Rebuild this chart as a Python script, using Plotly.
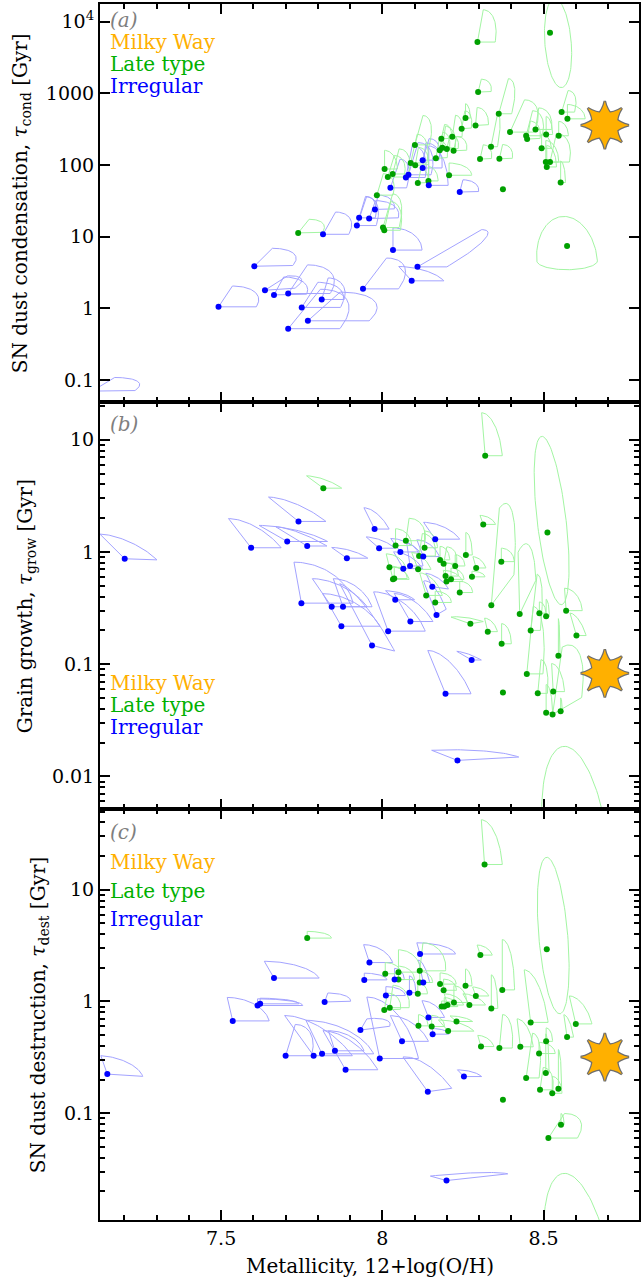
import numpy as np
import plotly.graph_objects as go

# ---------------- data ----------------
# Panel (a): SN dust condensation timescale [Gyr]
cond_irr_z = [7.10, 7.492, 7.603, 7.636, 7.664, 7.708, 7.708, 7.750, 7.769, 7.812, 7.816, 7.921, 7.928,
              7.940, 7.959, 7.977, 8.025, 8.033, 8.073, 8.081, 8.091, 8.109, 8.125, 8.125, 8.144, 8.240]
cond_irr_tau = [0.07, 1.05, 3.87, 1.79, 1.54, 1.61, 0.52, 1.03, 0.67, 1.33, 10.8, 14.3, 18.3,
                1.87, 17.9, 24, 48, 6.5, 67, 73, 2.42, 3.79, 117, 91, 52, 42]
# confidence contour: (right dZ, right dlog, top dZ, top dlog)
cond_irr_cont = [(0.13, 0, 0.07, 0.19), (0.117, 0, 0.043, 0.29), (0.117, 0, 0.056, 0.25), (0.09, 0.02, 0.07, 0.2),
                 (0.10, 0, 0.03, 0.25), (0.13, 0, 0.06, 0.40), (0.16, 0, 0.10, 0.55), (0.12, 0, 0.05, 0.35),
                 (0.19, 0, 0.10, 0.40), (0.07, 0, 0.02, 0.30), (0.08, 0, 0.039, 0.31), (0.06, 0, 0.03, 0.40),
                 (0.05, 0, 0.02, 0.30), (0.11, 0, 0.073, 0.43), (0.09, 0, 0.02, 0.25), (0.06, 0, 0.01, 0.20),
                 (0.05, 0, 0.03, 0.40), (0.09, 0, 0.0, 0.31), (0.06, 0, 0.02, 0.45), (0.07, 0, 0.03, 0.45),
                 (0.10, 0, -0.04, 0.20), (0.091, 0, 0.199, 0.52), (0.05, 0, 0.02, 0.30), (0.06, 0, 0.01, 0.35),
                 (0.06, 0, 0.0, 0.55), (0.058, 0, 0.01, 0.17)]
cond_late_z = [7.739, 7.983, 8.002, 8.006, 8.007, 8.017, 8.032, 8.088, 8.101, 8.102, 8.110, 8.143, 8.166,
               8.178, 8.183, 8.186, 8.200, 8.207, 8.217, 8.221, 8.246, 8.258, 8.289, 8.295, 8.297, 8.303,
               8.337, 8.361, 8.363, 8.374, 8.396, 8.446, 8.449, 8.475, 8.494, 8.507, 8.508, 8.510, 8.520,
               8.520, 8.547, 8.553, 8.556, 8.573, 8.574]
cond_late_tau = [11.3, 38, 13.4, 12.3, 88, 68, 75, 107, 191, 99, 56, 60, 124, 161, 232, 174, 167, 72, 248,
                 158, 321, 452, 357, 5200, 1043, 121, 180, 519, 122, 46, 288, 256, 230, 314, 171, 110, 267,
                 94, 110, 7000, 256, 57, 548, 7.4, 441]
cond_late_cont = [(0.074, 0, 0.034, 0.19), (0.05, 0, 0.02, 0.30), (0.05, 0, 0.03, 0.47), (0.05, 0, 0.02, 0.40),
                  (0.04, 0, 0.0, 0.26), (0.05, 0, 0.02, 0.30), (0.05, 0, 0.02, 0.35), (0.05, 0, 0.02, 0.40),
                  (0.045, 0, 0.025, 0.41), (0.04, 0, 0.01, 0.25), (0.03, 0, 0.01, 0.20), (0.03, 0, 0.0, 0.20),
                  (0.035, 0, 0.01, 0.25), (0.03, 0, 0.01, 0.25), (0.03, 0, 0.01, 0.20), (0.04, 0, 0.01, 0.30),
                  (0.035, 0, 0.01, 0.20), (0.07, 0, 0.0, 0.17), (0.03, 0, 0.01, 0.30), (0.04, 0, 0.01, 0.20),
                  (0.03, 0, 0.01, 0.25), (0.015, 0, 0.0, 0.20), (0.04, 0, 0.005, 0.25), (0.055, 0, 0.018, 0.45),
                  (0.04, 0, 0.01, 0.18), (0.035, 0, 0.01, 0.20), (0.02, 0, 0.02, 0.45), (0.04, 0, 0.03, 0.49),
                  (0.04, 0, 0.01, 0.20), (0, 0, 0, 0), (0.075, 0, 0.045, 0.45), (0.05, 0, 0.02, 0.35),
                  (0.04, 0, 0.01, 0.25), (0.05, 0, 0.01, 0.30), (0.03, 0, 0.0, 0.20), (0.04, 0, 0.0, 0.30),
                  (0.02, 0, 0.0, 0.25), (0.03, 0, 0.0, 0.30), (0.06, 0, 0.02, 0.40), (0, 0, 0, 0),
                  (0.03, 0, 0.0, 0.20), (0.015, 0, 0.0, 0.30), (0.04, 0, 0.02, 0.30), (0, 0, 0, 0),
                  (0.055, 0, 0.0, 0.20)]
# closed contours: (centre Z, centre tau, half-width dZ, top dZ, top dlog)
cond_late_ell = [(8.545, 5012, 0.041, -0.01, 0.62)]
# dome-shaped contours: (centre Z, base tau, half-width dZ, top dZ, top dlog)
cond_late_dome = [(8.573, 4.6, 0.094, -0.01, 0.62)]
cond_mw = 360

# Panel (b): grain growth timescale [Gyr]
grow_irr_z = [7.201, 7.593, 7.705, 7.740, 7.749, 7.767, 7.843, 7.873, 7.878, 7.890, 7.968, 7.976, 7.990,
              8.018, 8.040, 8.056, 8.065, 8.086, 8.087, 8.127, 8.155, 8.164, 8.168, 8.196, 8.233, 8.277]
grow_irr_tau = [0.87, 1.09, 1.24, 1.87, 0.35, 1.13, 0.325, 0.218, 0.325, 0.88, 0.147, 1.60, 1.08,
                0.197, 0.375, 1.0, 0.71, 0.75, 0.24, 0.91, 0.49, 1.30, 0.275, 0.0545, 0.0139, 0.109]
grow_irr_cont = [(0.10, -0.01, -0.077, 0.22), (0.093, 0, -0.07, 0.26), (0.125, 0, -0.087, 0.143),
                 (0.085, 0, -0.093, 0.217), (0.16, 0, -0.023, 0.365), (0.061, 0, -0.097, 0.17),
                 (0.11, 0, -0.06, 0.25), (0.12, 0, -0.058, 0.29), (0.09, 0, -0.03, 0.25),
                 (0.065, 0, -0.047, 0.095), (0.07, -0.05, -0.10, 0.55), (0.045, 0, -0.033, 0.19),
                 (0.05, 0, -0.04, 0.10), (0.115, 0, -0.045, 0.35), (0.06, 0, -0.03, 0.08),
                 (0.06, 0, -0.03, 0.12), (0.06, 0, -0.03, 0.15), (0.04, 0, -0.01, 0.20),
                 (0.07, 0, -0.05, 0.25), (0.05, 0, -0.02, 0.15), (0.05, -0.02, -0.02, 0.12),
                 (0.076, 0, -0.036, 0.15), (0.03, 0.05, -0.04, 0.30), (0.079, 0, -0.055, 0.386),
                 (0.19, 0.03, -0.08, 0.09), (0.03, 0, -0.046, 0.077)]
grow_late_z = [7.817, 8.022, 8.033, 8.037, 8.041, 8.073, 8.111, 8.114, 8.131, 8.136, 8.164, 8.179, 8.190,
               8.196, 8.199, 8.213, 8.226, 8.240, 8.259, 8.273, 8.278, 8.291, 8.313, 8.319, 8.327, 8.338,
               8.369, 8.370, 8.374, 8.426, 8.448, 8.460, 8.482, 8.487, 8.508, 8.508, 8.512, 8.528, 8.530,
               8.546, 8.553, 8.570, 8.602]
grow_late_tau = [3.7, 0.73, 0.57, 0.58, 1.14, 1.26, 0.70, 0.92, 1.09, 0.41, 0.355, 0.85, 0.785,
                 0.61, 0.545, 0.57, 0.75, 0.435, 0.94, 0.229, 0.60, 0.72, 1.76, 7.2, 0.195, 0.336,
                 0.82, 0.152, 0.056, 0.28, 0.082, 0.20, 0.055, 0.285, 0.268, 0.037, 1.49, 0.0357, 0.057,
                 0.119, 0.038, 0.30, 0.18]
grow_late_cont = [(0.057, 0, -0.052, 0.11), (0.05, 0, -0.01, 0.12), (0.05, 0, -0.01, 0.12), (0.04, 0, 0.0, 0.10),
                  (0.05, 0, 0.0, 0.15), (0.06, 0, 0.01, 0.20), (0.04, 0, -0.02, 0.15), (0.05, 0, 0.01, 0.20),
                  (0.04, 0, 0.0, 0.15), (0.05, 0, -0.02, 0.20), (0.05, 0, 0.0, 0.10), (0.03, 0, 0.0, 0.12),
                  (0.04, 0, 0.01, 0.15), (0.04, 0, 0.0, 0.12), (0.05, 0, -0.01, 0.10), (0.04, 0, 0.0, 0.10),
                  (0.03, 0, 0.0, 0.10), (0.04, 0, 0.0, 0.10), (0.02, 0, 0.0, 0.20), (0.04, 0.02, -0.06, 0.06),
                  (0.04, 0, 0.0, 0.05), (0.03, 0, -0.01, 0.10), (0.038, 0, -0.01, 0.08), (0.053, 0, -0.011, 0.383),
                  (0.03, 0, -0.01, 0.12), (0.07, 0.27, 0.025, 0.865), (0.04, 0, 0.0, 0.12), (0.03, 0, 0.0, 0.18),
                  (0, 0, 0, 0), (0.05, 0.3, -0.005, 0.55), (0.05, 0, 0.02, 0.60), (0.03, 0, 0.02, 0.50),
                  (0.03, 0, 0.01, 0.30), (0.02, 0, 0.0, 0.10), (0.01, 0, 0.0, 0.15), (0.02, 0, 0.0, 0.25),
                  (0, 0, 0, 0), (0.09, 0.15, 0.03, 0.60), (0.035, 0, -0.005, 0.25), (0.005, 0, 0.0, 0.33),
                  (0.005, 0, 0.0, 0.12), (0.05, 0, -0.005, 0.20), (0.03, 0, -0.02, 0.20)]
grow_late_ell = [(8.525, 1.905, 0.045, -0.03, 0.75), (8.60, 0.0025, 0.10, -0.035, 0.87)]
grow_late_dome = []
grow_mw = 0.083

# Panel (c): SN dust destruction timescale [Gyr]
dest_irr_z = [7.147, 7.536, 7.613, 7.621, 7.664, 7.700, 7.787, 7.813, 7.821, 7.853, 7.886, 7.932, 7.944,
              7.960, 7.992, 8.011, 8.038, 8.061, 8.084, 8.117, 8.127, 8.141, 8.143, 8.156, 8.199, 8.253]
dest_irr_tau = [0.224, 0.67, 0.92, 0.953, 1.62, 0.327, 0.327, 0.34, 0.99, 0.362, 0.245, 0.555, 1.56,
                2.23, 0.309, 1.13, 1.57, 0.44, 1.20, 2.66, 1.48, 0.156, 0.72, 0.51, 0.025, 0.213]
dest_irr_cont = [(0.11, -0.02, -0.02, 0.165), (0.113, 0, -0.017, 0.21), (0.14, 0, 0.0, 0.06), (0.12, 0, 0.0, 0.05),
                 (0.14, 0, -0.03, 0.15), (0.08, 0, 0.03, 0.28), (0.12, 0, -0.09, 0.36), (0.16, 0, -0.05, 0.30),
                 (0.08, 0, 0.01, 0.08), (0.09, 0, -0.02, 0.18), (0.10, 0, -0.07, 0.35), (0.09, 0.03, 0.02, 0.10),
                 (0.07, 0, 0.0, 0.06), (0.072, 0, -0.018, 0.16), (0.12, 0, -0.04, 0.55), (0.06, 0, 0.0, 0.08),
                 (0.03, 0, 0.0, 0.10), (0.082, 0, -0.036, 0.23), (0.02, 0, 0.0, 0.15), (0.11, 0, -0.01, 0.10),
                 (0.02, 0, -0.015, 0.20), (0.074, 0.03, -0.077, 0.31), (0.05, 0, -0.02, 0.15),
                 (0.05, 0, 0.0, 0.05), (0.19, 0.06, -0.05, 0.04), (0.055, 0, -0.02, 0.06)]
dest_late_z = [7.767, 8.006, 8.009, 8.023, 8.050, 8.050, 8.110, 8.112, 8.116, 8.116, 8.153, 8.179, 8.184,
               8.190, 8.192, 8.202, 8.204, 8.222, 8.230, 8.258, 8.270, 8.290, 8.304, 8.306, 8.317, 8.338,
               8.363, 8.372, 8.374, 8.428, 8.446, 8.460, 8.486, 8.489, 8.507, 8.508, 8.510, 8.515, 8.527,
               8.546, 8.554, 8.573, 8.600]
dest_late_tau = [3.69, 0.84, 1.77, 0.88, 1.83, 1.57, 1.17, 0.605, 1.88, 1.48, 0.597, 1.43, 0.90,
                 1.26, 0.90, 0.93, 0.543, 0.98, 0.662, 1.38, 0.93, 1.12, 2.6, 0.395, 16.8, 0.867,
                 0.383, 1.27, 0.132, 0.393, 0.207, 0.65, 0.342, 0.162, 0.229, 0.44, 2.94, 0.060, 0.151,
                 0.166, 0.079, 0.48, 0.63]
dest_late_cont = [(0.075, 0, 0.0, 0.06), (0.05, 0, 0.01, 0.15), (0.05, 0, 0.0, 0.10), (0.06, 0, 0.01, 0.20),
                  (0.07, 0, 0.0, 0.20), (0.05, 0, 0.0, 0.12), (0.03, 0, 0.0, 0.10), (0.03, 0, 0.0, 0.10),
                  (0.08, 0, 0.01, 0.25), (0.04, 0, 0.0, 0.10), (0.04, 0, 0.0, 0.10), (0.05, 0, 0.0, 0.10),
                  (0.05, 0, 0.0, 0.05), (0.04, 0, 0.0, 0.10), (0.04, 0, 0.0, 0.08), (0.05, 0, -0.01, 0.10),
                  (0.08, 0, -0.03, 0.10), (0.04, 0, 0.0, 0.15), (0.05, 0, -0.02, 0.05), (0.02, 0, 0.0, 0.15),
                  (0.05, 0, -0.02, 0.10), (0.04, 0, -0.01, 0.08), (0.037, 0, -0.01, 0.09), (0.04, 0, -0.01, 0.10),
                  (0.055, 0, -0.01, 0.40), (0.02, 0, 0.0, 0.30), (0.04, 0, 0.01, 0.30), (0.038, 0, 0.0, 0.45),
                  (0, 0, 0, 0), (0.04, 0, -0.01, 0.25), (0.04, 0, 0.02, 0.40), (0.054, 0, -0.02, 0.47),
                  (0.05, 0, 0.0, 0.10), (0.04, 0, 0.01, 0.20), (0.01, 0, 0.0, 0.35), (0.02, 0, 0.0, 0.12),
                  (0, 0, 0, 0), (0.09, 0, 0.05, 0.22), (0.03, 0, 0.0, 0.15), (0.01, 0, 0.0, 0.35),
                  (0.01, 0, 0.0, 0.10), (0.02, 0, -0.01, 0.20), (0.05, 0, -0.02, 0.25)]
dest_late_ell = [(8.53, 3.89, 0.045, -0.02, 0.70), (8.61, 0.004, 0.10, -0.045, 0.86)]
dest_late_dome = []
dest_mw = 0.318

mw_z = 8.69

x_range = [7.1244, 8.796]
y_ranges = {"a": [-1.307, 4.247], "b": [-2.29, 1.336], "c": [-1.955, 1.722]}
cond_ticks = [0.1, 1, 10, 100, 1000, 10000]
cond_ticktext = ["0.1", "1", "10", "100", "1000", "10<sup>4</sup>"]
legend_labels = ["Milky Way", "Late type", "Irregular"]

# ---------------- styles ----------------
BLUE = "#0000ff"
GREEN = "#00a000"
BLUE_C = "#a3a3ff"
GREEN_C = "#a3f5a3"
ORANGE = "#ffb000"
FONT = "DejaVu Serif"
legend_colors = [ORANGE, "#00b000", BLUE]

W, H = 642, 1282
ML, MR, MT, MB = 100, 1, 4, 62
PW, PH = W - ML - MR, H - MT - MB
bottom_px = H - MB


def py2paper(py):
    return (bottom_px - py) / PH


def px2paper(px):
    return (px - ML) / PW


def quarter_paths(zs, taus, conts):
    X, Y = [], []
    t = np.linspace(0, np.pi / 2, 40)
    for z, tau, (rx, ry, tx, ty) in zip(zs, taus, conts):
        if rx == 0 and ty == 0:
            continue
        ly = np.log10(tau)
        xs = [z, z + rx] + list(z + rx * np.cos(t) + tx * np.sin(t)) + [z]
        ys = [ly, ly + ry] + list(ly + ry * np.cos(t) + ty * np.sin(t)) + [ly]
        X += xs + [None]
        Y += [10 ** v for v in ys] + [None]
    return X, Y


def ellipse_paths(ells):
    X, Y = [], []
    t = np.linspace(0, 2 * np.pi, 120)
    for cz, ctau, ax, bx, by in ells:
        cl = np.log10(ctau)
        X += list(cz + ax * np.cos(t) + bx * np.sin(t)) + [None]
        Y += list(10 ** (cl + by * np.sin(t))) + [None]
    return X, Y


def dome_paths(domes):
    # upper half-ellipse closed by a shallow lower arc
    X, Y = [], []
    t1 = np.linspace(0, np.pi, 80)
    t2 = np.linspace(np.pi, 2 * np.pi, 60)
    for cz, ctau, ax, bx, by in domes:
        cl = np.log10(ctau)
        xs = list(cz + ax * np.cos(t1) + bx * np.sin(t1)) + list(cz + ax * np.cos(t2))
        ys = list(cl + by * np.sin(t1)) + list(cl + 0.2 * by * np.sin(t2))
        X += xs + [None]
        Y += [10 ** v for v in ys] + [None]
    return X, Y


fig = go.Figure()

panels = [
    ("x", "y", cond_irr_z, cond_irr_tau, cond_irr_cont, cond_late_z, cond_late_tau, cond_late_cont,
     cond_late_ell, cond_late_dome, cond_mw),
    ("x2", "y2", grow_irr_z, grow_irr_tau, grow_irr_cont, grow_late_z, grow_late_tau, grow_late_cont,
     grow_late_ell, grow_late_dome, grow_mw),
    ("x3", "y3", dest_irr_z, dest_irr_tau, dest_irr_cont, dest_late_z, dest_late_tau, dest_late_cont,
     dest_late_ell, dest_late_dome, dest_mw),
]

for xa, ya, iz, it, ic, lz, lt, lc, le, ld, mw in panels:
    X, Y = quarter_paths(iz, it, ic)
    fig.add_trace(go.Scatter(x=X, y=Y, mode="lines", line=dict(color=BLUE_C, width=1),
                             xaxis=xa, yaxis=ya, hoverinfo="skip"))
    X, Y = quarter_paths(lz, lt, lc)
    X2, Y2 = ellipse_paths(le)
    X3, Y3 = dome_paths(ld)
    fig.add_trace(go.Scatter(x=X + X2 + X3, y=Y + Y2 + Y3, mode="lines", line=dict(color=GREEN_C, width=1),
                             xaxis=xa, yaxis=ya, hoverinfo="skip"))
    fig.add_trace(go.Scatter(x=lz, y=lt, mode="markers", marker=dict(color=GREEN, size=6),
                             xaxis=xa, yaxis=ya, name="Late type"))
    fig.add_trace(go.Scatter(x=iz, y=it, mode="markers", marker=dict(color=BLUE, size=6),
                             xaxis=xa, yaxis=ya, name="Irregular"))
    # Milky Way star (two rotated 4-point stars)
    for lw in (2.5, 0):
        fig.add_trace(go.Scatter(x=[mw_z, mw_z], y=[mw, mw], mode="markers",
                                 marker=dict(symbol="star-square", size=31, angle=[0, 45], color=ORANGE,
                                             line=dict(color="#6e6e6e", width=lw)),
                                 xaxis=xa, yaxis=ya, name="Milky Way"))

dom = {"a": [py2paper(402), 1.0], "b": [py2paper(809), py2paper(402)], "c": [0.0, py2paper(809)]}

xcommon = dict(range=x_range, tick0=7.5, dtick=0.5, ticks="inside", ticklen=10, tickwidth=1.5,
               tickcolor="black", showline=True, linewidth=2, linecolor="black", mirror="allticks",
               showgrid=False, zeroline=False,
               minor=dict(dtick=0.1, ticks="inside", ticklen=5, tickwidth=1.5, tickcolor="black", showgrid=False),
               tickfont=dict(family=FONT, size=19, color="black"))
ycommon = dict(type="log", ticks="inside", ticklen=10, tickwidth=1.5, tickcolor="black",
               showline=True, linewidth=2, linecolor="black", mirror="allticks",
               showgrid=False, zeroline=False, tickfont=dict(family=FONT, size=19, color="black"))

layout = dict(width=W, height=H, margin=dict(l=ML, r=MR, t=MT, b=MB), showlegend=False,
              plot_bgcolor="white", paper_bgcolor="white")
layout["xaxis"] = dict(xcommon, anchor="y", domain=[0, 1], showticklabels=False)
layout["xaxis2"] = dict(xcommon, anchor="y2", domain=[0, 1], showticklabels=False)
layout["xaxis3"] = dict(xcommon, anchor="y3", domain=[0, 1], showticklabels=True,
                        tickvals=[7.5, 8.0, 8.5], ticktext=["7.5", "8", "8.5"], tickmode="array")
layout["yaxis"] = dict(ycommon, anchor="x", domain=dom["a"], range=y_ranges["a"],
                       tickmode="array", tickvals=cond_ticks, ticktext=cond_ticktext)
minor_log = dict(dtick="D1", ticks="inside", ticklen=5, tickwidth=1.5, tickcolor="black", showgrid=False)
layout["yaxis2"] = dict(ycommon, anchor="x2", domain=dom["b"], range=y_ranges["b"], dtick=1, tick0=0,
                        minor=minor_log)
layout["yaxis3"] = dict(ycommon, anchor="x3", domain=dom["c"], range=y_ranges["c"], dtick=1, tick0=0,
                        minor=minor_log)
fig.update_layout(**layout)

TS = 20
ann = []
# y-axis titles
ytitles = [("SN dust condensation, <i>τ</i><sub>cond</sub> [Gyr]", 21, 203),
           ("Grain growth, <i>τ</i><sub>grow</sub> [Gyr]", 26, 606),
           ("SN dust destruction, <i>τ</i><sub>dest</sub> [Gyr]", 39, 1015)]
for txt, px, py in ytitles:
    ann.append(dict(text=txt, x=px2paper(px), y=py2paper(py), xref="paper", yref="paper",
                    textangle=-90, showarrow=False, xanchor="center", yanchor="middle",
                    font=dict(family=FONT, size=TS, color="black")))
ann.append(dict(text="Metallicity, 12+log(O/H)", x=0.5, y=py2paper(1266), xref="paper", yref="paper",
                showarrow=False, xanchor="center", yanchor="middle",
                font=dict(family=FONT, size=TS, color="black")))
# panel labels
for lab, py in (("(a)", 20), ("(b)", 424), ("(c)", 832)):
    ann.append(dict(text="<i>" + lab + "</i>", x=px2paper(108), y=py2paper(py), xref="paper", yref="paper",
                    showarrow=False, xanchor="left", yanchor="middle",
                    font=dict(family=FONT, size=TS, color="#7f7f7f")))
# legends: one multi-line text block per panel (block centre y, line pitch in px)
legend_blocks = [(64, 22), (705, 22), (890, 28.5)]
legend_text = "<br>".join('<span style="color:%s;font-size:%dpx">%s</span>' % (c, TS, t)
                          for t, c in zip(legend_labels, legend_colors))
for py, pitch in legend_blocks:
    ann.append(dict(text=legend_text, x=px2paper(108), y=py2paper(py), xref="paper", yref="paper",
                    showarrow=False, xanchor="left", yanchor="middle", align="left",
                    font=dict(family=FONT, size=pitch / 1.3, color="black")))
fig.update_layout(annotations=ann)

fig.write_html("out.html", config={"displayModeBar": False},
               post_script="document.body.style.margin='0px';document.body.style.overflow='hidden';")
